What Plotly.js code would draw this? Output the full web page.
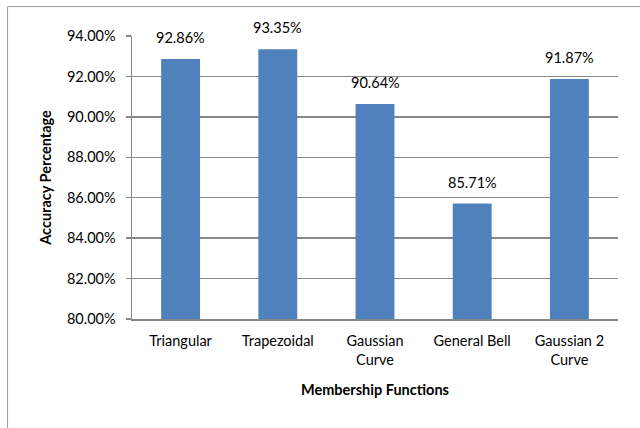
<!DOCTYPE html>
<html>
<head>
<meta charset="utf-8">
<script src="https://cdn.plot.ly/plotly-3.0.1.min.js"></script>
<style>
  html, body { margin: 0; padding: 0; background: #fff; }
  #chart { width: 640px; height: 428px; }
</style>
</head>
<body>
<div id="chart"></div>
<script>
// Accuracy of each fuzzy membership function
const categories = ['Triangular', 'Trapezoidal', 'Gaussian<br>Curve', 'General Bell', 'Gaussian 2<br>Curve'];
const accuracy = [92.86, 93.35, 90.64, 85.71, 91.87];
const yTickValues = [80, 82, 84, 86, 88, 90, 92, 94];
const yTickText = yTickValues.map(v => v.toFixed(2) + '%');

const FONT = 'Lato, "Open Sans", sans-serif';
const FS = 14.5;
const GRID = '#878787';

const bars = {
  type: 'bar',
  x: categories,
  y: accuracy,
  width: 0.4,
  marker: { color: '#4F81BD', line: { width: 0 } },
  hoverinfo: 'skip',
  cliponaxis: true
};

// value labels sit a little above each bar
const labels = categories.map((c, i) => ({
  x: c,
  y: accuracy[i],
  xref: 'x',
  yref: 'y',
  text: accuracy[i].toFixed(2) + '%',
  showarrow: false,
  yanchor: 'bottom',
  yshift: 11,
  font: { family: FONT, size: FS, color: '#000' }
}));

const layout = {
  width: 640,
  height: 428,
  margin: { l: 132, r: 22, t: 36, b: 109 },
  paper_bgcolor: '#fff',
  plot_bgcolor: '#fff',
  showlegend: false,
  font: { family: FONT, size: FS, color: '#000' },
  xaxis: {
    type: 'category',
    showgrid: false,
    showline: true,
    linecolor: GRID,
    linewidth: 1.5,
    ticks: '',
    ticklabelstandoff: 8,
    tickfont: { family: FONT, size: FS, color: '#000' },
    title: { text: '<b>Membership Functions</b>', font: { family: FONT, size: FS, color: '#000' }, standoff: 18 },
    fixedrange: true
  },
  yaxis: {
    range: [80, 94],
    tickmode: 'array',
    tickvals: yTickValues,
    ticktext: yTickText,
    showgrid: true,
    gridcolor: GRID,
    gridwidth: 1.5,
    showline: true,
    linecolor: GRID,
    linewidth: 1.5,
    ticks: 'outside',
    ticklen: 5,
    tickcolor: GRID,
    tickwidth: 1.5,
    ticklabelstandoff: 7,
    zeroline: false,
    tickfont: { family: FONT, size: FS, color: '#000' },
    title: { text: '<b>Accuracy Percentage</b>', font: { family: FONT, size: FS, color: '#000' }, standoff: 12 },
    fixedrange: true
  },
  annotations: labels,
  shapes: [{
    type: 'rect',
    xref: 'paper', yref: 'paper',
    x0: -0.256, x1: 2, y0: -2, y1: 1.104,
    line: { color: '#9a9a9a', width: 1 },
    fillcolor: 'rgba(0,0,0,0)',
    layer: 'below'
  }]
};

Plotly.newPlot('chart', [bars], layout, { displayModeBar: false, staticPlot: true });
</script>
</body>
</html>
